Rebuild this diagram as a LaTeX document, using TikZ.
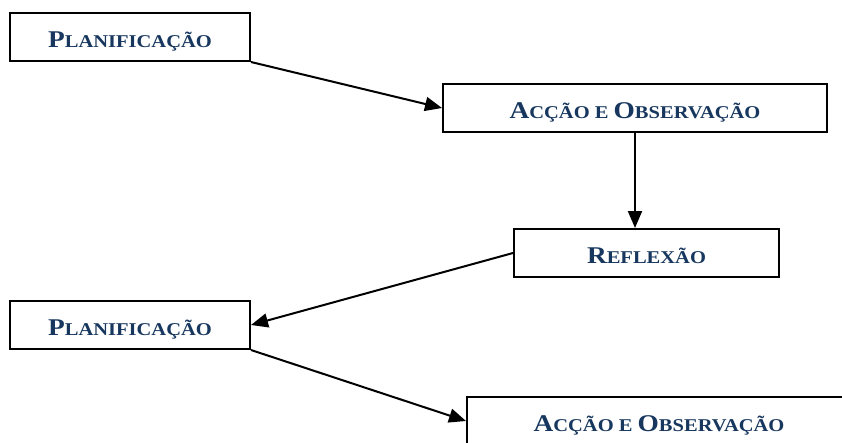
\documentclass[tikz,border=0pt]{standalone}
\usepackage{fontspec}
\setmainfont{Liberation Serif}
\newfontfamily\boxfont[FakeStretch=1.14]{Liberation Serif}
\usetikzlibrary{arrows.meta,calc}
\definecolor{txtblue}{RGB}{23,55,94}
\newcommand{\smcap}[2]{{\fontsize{24}{24}\selectfont #1}{\fontsize{18}{18}\selectfont #2}}
\tikzset{
  stagebox/.style={draw=black, line width=2pt, rectangle, inner sep=0pt,
    minimum height=48pt, text height=21pt, text depth=0pt,
    font=\boxfont\bfseries, text=txtblue, fill=white},
  flow/.style={line width=2pt, -{Triangle[length=17pt,width=14pt]}}
}
\begin{document}
\begin{tikzpicture}[x=1pt,y=-1pt]
\clip (0,0) rectangle (842,442);
\fill[white] (0,0) rectangle (842,442);
\node[stagebox, minimum width=240pt] (b1) at (130,37) {\smcap{P}{LANIFICAÇÃO}};
\node[stagebox, minimum width=384pt] (b2) at (635,108) {\smcap{A}{CÇÃO E }\smcap{O}{BSERVAÇÃO}};
\node[stagebox, minimum width=265pt] (b3) at (646.5,253) {\smcap{R}{EFLEXÃO}};
\node[stagebox, minimum width=240pt] (b4) at (130,325) {\smcap{P}{LANIFICAÇÃO}};
\node[stagebox, minimum width=384pt] (b5) at (659,421) {\smcap{A}{CÇÃO E }\smcap{O}{BSERVAÇÃO}};
\draw[flow] (b1.south east) -- (b2.west);
\draw[flow] (b2.south) -- (b2.south |- b3.north);
\draw[flow] (b3.west) -- (b4.east);
\draw[flow] (b4.south east) -- (b5.west);
\end{tikzpicture}
\end{document}
